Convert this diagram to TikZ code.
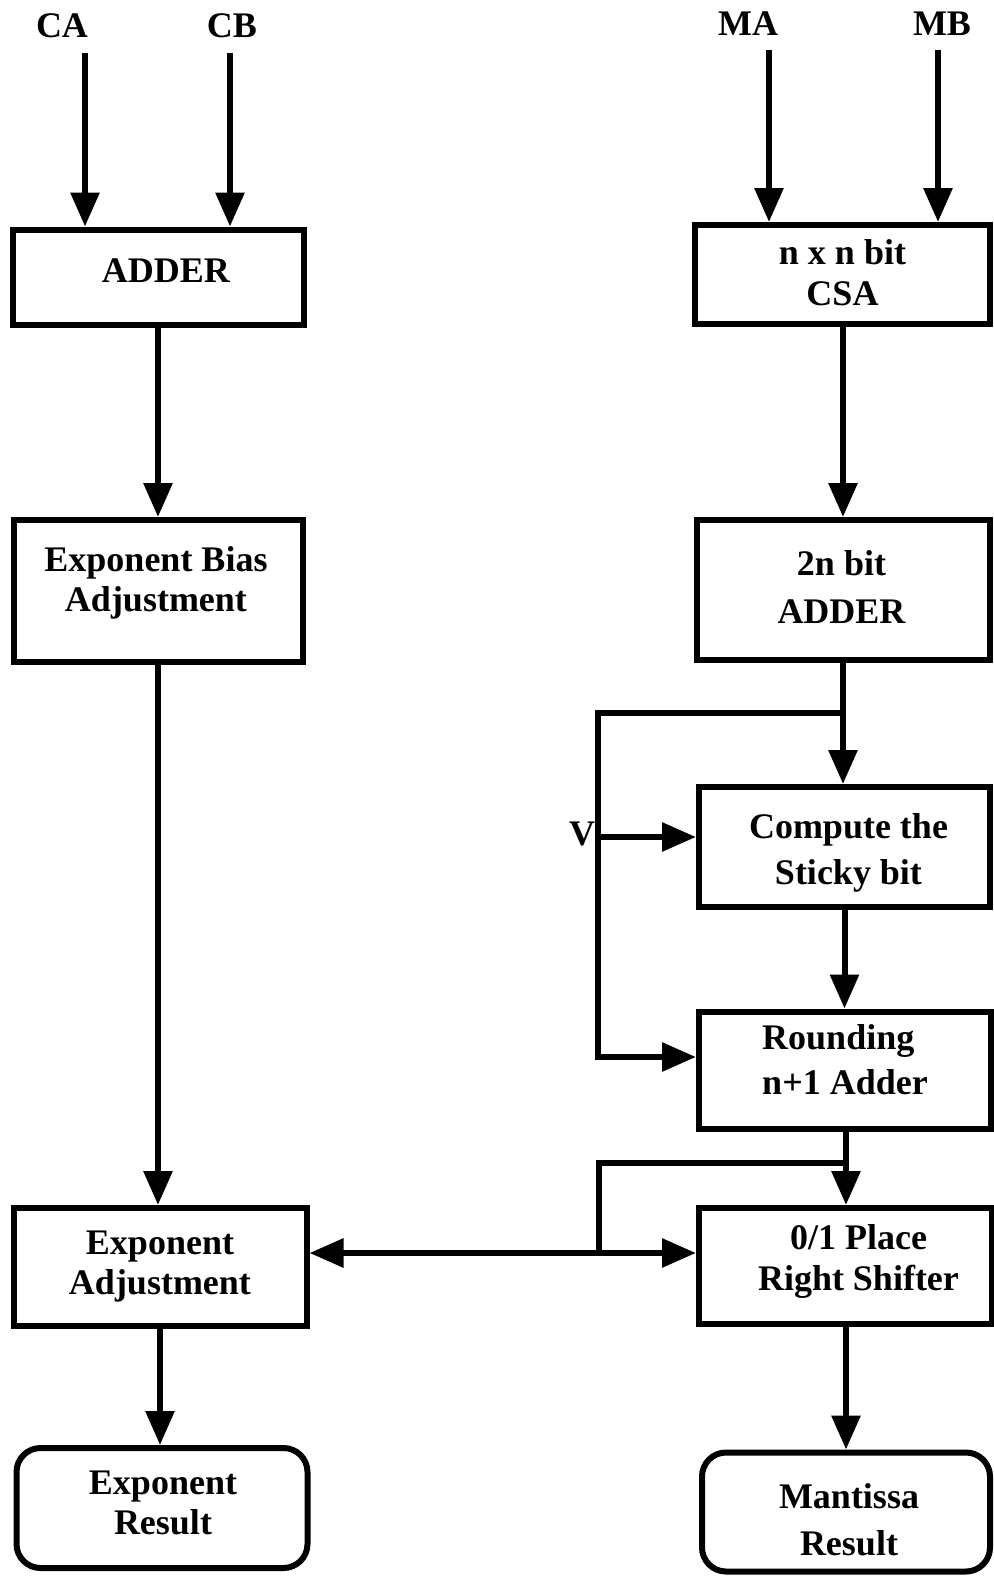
\documentclass[tikz,border=0pt]{standalone}
\usepackage{fontspec}
\setmainfont{Liberation Serif}
\usetikzlibrary{arrows.meta}
\tikzset{
  box/.style={draw, line width=3pt, inner sep=0pt},
  rbox/.style={box, rounded corners=12pt},
  ln/.style={line width=3pt},
  arr/.style={ln, -{Triangle[length=17pt,width=14pt]}},
  dbl/.style={ln, {Triangle[length=17pt,width=14pt]}-{Triangle[length=17pt,width=14pt]}},
  txt/.style={font=\bfseries\fontsize{18}{20}\selectfont, align=center, inner sep=0pt},
}
\begin{document}
\begin{tikzpicture}[x=0.5pt, y=-0.5pt]
\useasboundingbox (0,0) rectangle (993,1576);

% input labels
\node[txt] (CA) at (62,26) {CA};
\node[txt] (CB) at (232,26) {CB};
\node[txt] (MA) at (748,24) {MA};
\node[txt] (MB) at (942,24) {MB};

% exponent path
\node[box, minimum width=145.5pt, minimum height=47.5pt,
      label={[txt, xshift=4pt, yshift=3pt]center:ADDER}] (adderL) at (158,277) {};
\node[box, minimum width=144.5pt, minimum height=71pt,
      label={[txt, xshift=-1pt, yshift=4pt]center:Exponent Bias\\Adjustment}] (bias) at (158,591) {};
\node[box, minimum width=146.5pt, minimum height=59pt,
      label={[txt]center:Exponent\\Adjustment}] (expadj) at (160,1267) {};
\node[rbox, minimum width=145.5pt, minimum height=60pt,
      label={[txt, xshift=0.5pt, yshift=2.5pt]center:Exponent\\Result}] (expres) at (162,1508) {};

% mantissa path
\node[box, minimum width=147.5pt, minimum height=49.5pt,
      label={[txt, yshift=1pt, font=\bfseries\fontsize{18}{20.5}\selectfont]center:n x n bit\\CSA}] (csa) at (842.5,274.5) {};
\node[box, minimum width=146.5pt, minimum height=70pt,
      label={[txt, xshift=-1pt, yshift=1.5pt, font=\bfseries\fontsize{18}{24}\selectfont]center:2n bit\\ADDER}] (adder2) at (843.5,590) {};
\node[box, minimum width=145.5pt, minimum height=60pt,
      label={[txt, xshift=2pt, yshift=-3pt, font=\bfseries\fontsize{18}{23}\selectfont]center:Compute the\\Sticky bit}] (sticky) at (844.5,847) {};
\node[box, minimum width=146pt, minimum height=58.5pt,
      label={[txt, align=left, yshift=5pt, font=\bfseries\fontsize{18}{22.5}\selectfont]center:Rounding\\n+1 Adder}] (round) at (845,1070) {};
\node[box, minimum width=146.5pt, minimum height=58pt,
      label={[txt, xshift=6.5pt, yshift=2.5pt, font=\bfseries\fontsize{18}{20.5}\selectfont]center:0/1 Place\\Right Shifter}] (shift) at (845.5,1266) {};
\node[rbox, minimum width=144pt, minimum height=59.5pt,
      label={[txt, xshift=1.5pt, yshift=-4pt, font=\bfseries\fontsize{18}{23.5}\selectfont]center:Mantissa\\Result}] (mant) at (846,1512) {};

\node[txt] (V) at (582,834) {V};

% input arrows
\coordinate (ca0) at (85,53);
\coordinate (cb0) at (230,53);
\coordinate (ma0) at (769,50);
\coordinate (mb0) at (938,50);
\draw[arr] (ca0) -- (ca0 |- adderL.north);
\draw[arr] (cb0) -- (cb0 |- adderL.north);
\draw[arr] (ma0) -- (ma0 |- csa.north);
\draw[arr] (mb0) -- (mb0 |- csa.north);

% exponent chain
\draw[arr] (adderL.south) -- (adderL.south |- bias.north);
\draw[arr] (bias.south) -- (bias.south |- expadj.north);
\draw[arr] (expadj.south) -- (expadj.south |- expres.north);

% mantissa chain
\coordinate (k1) at (843,713);
\coordinate (kv) at (598,837);
\coordinate (k2) at (598,1057);
\coordinate (j1) at (846,1163);
\coordinate (j2) at (599,1253);

\draw[arr] (csa.south -| k1) -- (adder2.north -| k1);
\draw[arr] (adder2.south -| k1) -- (sticky.north -| k1);
\draw[arr] (k1) -| (k2) -- (round.west |- k2);
\draw[arr] (kv) -- (sticky.west |- kv);
\draw[arr] (sticky.south) -- (sticky.south |- round.north);
\draw[arr] (round.south -| j1) -- (shift.north -| j1);
\draw[ln] (j1) -| (j2);
\draw[dbl] (expadj.east |- j2) -- (shift.west |- j2);
\draw[arr] (shift.south -| j1) -- (mant.north -| j1);
\end{tikzpicture}
\end{document}
